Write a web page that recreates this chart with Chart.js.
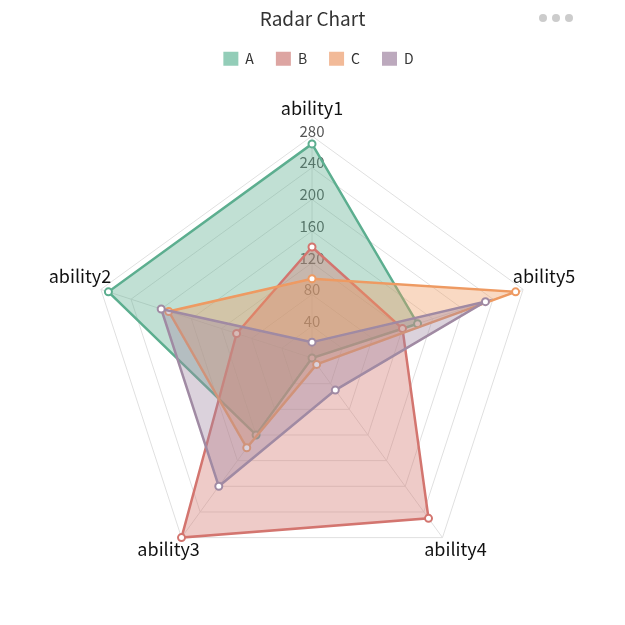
<!DOCTYPE html>
<html>
<head>
<meta charset="utf-8">
<script src="https://cdn.jsdelivr.net/npm/chart.js@4/dist/chart.umd.min.js"></script>
<style>
  html, body { margin: 0; padding: 0; background: #fff; }
  #wrap { width: 625px; height: 625px; position: relative; }
</style>
</head>
<body>
<div id="wrap"><canvas id="myChart"></canvas></div>
<script>
// data
const abilities = ['ability1', 'ability2', 'ability3', 'ability4', 'ability5'];
const seriesNames = ['A', 'B', 'C', 'D'];
const valuesA = [270, 270, 120, 0, 140];
const valuesB = [140, 100, 280, 250, 120];
const valuesC = [100, 190, 140, 10, 270];
const valuesD = [20, 200, 200, 50, 230];
const tickValues = [40, 80, 120, 160, 200, 240, 280];

// colours
const lineColors = ['#5cae8f', '#d3756f', '#ee9a62', '#a08aa3'];
const fillColors = ['rgba(92,174,143,0.38)', 'rgba(211,117,111,0.38)', 'rgba(238,154,98,0.38)', 'rgba(160,138,163,0.38)'];
const legendColors = ['#93cdb8', '#dda5a2', '#f2ba98', '#bca9bd'];

const FONT = '"Noto Sans CJK KR", "Noto Sans", sans-serif';

// chart.js walks the axes clockwise, the picture goes the other way round
const order = [0, 4, 3, 2, 1];
const reorder = arr => order.map(i => arr[i]);

const allValues = [valuesA, valuesB, valuesC, valuesD];
const datasets = allValues.map((vals, i) => ({
  label: seriesNames[i],
  data: reorder(vals),
  order: allValues.length - i, // last series on top
  borderColor: lineColors[i],
  backgroundColor: fillColors[i],
  borderWidth: 2.5,
  fill: true,
  pointRadius: 3.5,
  pointBorderWidth: 2,
  pointBackgroundColor: '#fff',
  pointBorderColor: lineColors[i]
}));

// room between legend and the radar, legend nudged a bit right
const legendGap = {
  id: 'legendGap',
  beforeInit(chart) {
    const fit = chart.legend.fit;
    chart.legend.fit = function () {
      fit.call(this);
      this.height += 60;
      if (this.lineWidths) this.lineWidths[0] -= 12;
    };
  }
};

// tick numbers, drawn under the series
const tickLabels = {
  id: 'tickLabels',
  beforeDatasetsDraw(chart) {
    const { ctx } = chart;
    const scale = chart.scales.r;
    ctx.save();
    ctx.font = '15px ' + FONT;
    ctx.fillStyle = '#555';
    ctx.textAlign = 'center';
    ctx.textBaseline = 'middle';
    tickValues.forEach(v => {
      const d = scale.getDistanceFromCenterForValue(v);
      ctx.fillText(String(v), scale.xCenter, scale.yCenter - d - 5);
    });
    ctx.restore();
  }
};

// axis names + the little menu dots
const abilityLabels = {
  id: 'abilityLabels',
  afterDraw(chart) {
    const { ctx } = chart;
    const scale = chart.scales.r;
    ctx.save();
    ctx.font = '18px ' + FONT;
    ctx.fillStyle = '#111';
    ctx.textAlign = 'center';
    ctx.textBaseline = 'middle';
    chart.data.labels.forEach((label, i) => {
      const p = scale.getPointPosition(i, scale.drawingArea + 22);
      ctx.fillText(label, p.x, p.y - 6);
    });
    // menu
    ctx.fillStyle = '#cccccc';
    [543, 556, 569].forEach(x => {
      ctx.beginPath();
      ctx.arc(x, 18, 4, 0, Math.PI * 2);
      ctx.fill();
    });
    ctx.restore();
  }
};

const config = {
  type: 'radar',
  data: {
    labels: reorder(abilities),
    datasets
  },
  options: {
    responsive: true,
    maintainAspectRatio: false,
    animation: false,
    layout: { padding: { bottom: 44 } },
    elements: { line: { tension: 0 } },
    scales: {
      r: {
        min: 0,
        max: tickValues[tickValues.length - 1],
        ticks: { stepSize: tickValues[0], display: false },
        grid: { color: '#e0e0e0', lineWidth: 1 },
        angleLines: { color: '#e0e0e0', lineWidth: 1 },
        pointLabels: { display: false }
      }
    },
    plugins: {
      title: {
        display: true,
        text: 'Radar Chart',
        color: '#333',
        font: { family: FONT, size: 19, weight: 'normal' },
        padding: { top: 7, bottom: 0 }
      },
      legend: {
        labels: {
          boxWidth: 15,
          boxHeight: 14,
          padding: 22,
          color: '#333',
          font: { family: FONT, size: 14 },
          generateLabels(chart) {
            return chart.data.datasets.map((ds, i) => ({
              text: ds.label,
              fillStyle: legendColors[i],
              strokeStyle: legendColors[i],
              lineWidth: 0,
              hidden: false,
              datasetIndex: i,
              fontColor: '#333'
            }));
          }
        }
      },
      tooltip: { enabled: false }
    }
  },
  plugins: [legendGap, tickLabels, abilityLabels]
};

new Chart(document.getElementById('myChart'), config);
</script>
</body>
</html>
